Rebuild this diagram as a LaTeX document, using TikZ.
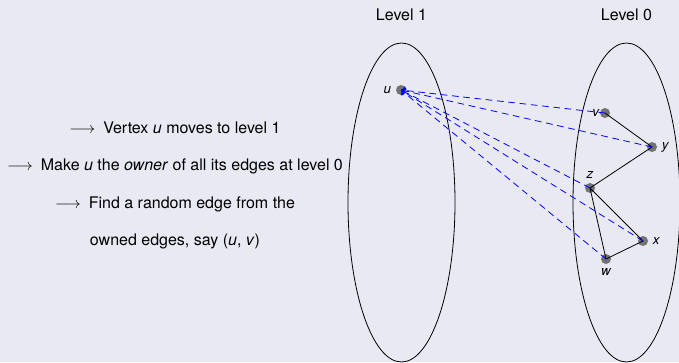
\documentclass[tikz,border=0pt]{standalone}
\usepackage{fontspec}
\setmainfont{TeX Gyre Heros}
\usepackage{xcolor}
\usepackage{tikz}
\usetikzlibrary{arrows.meta,positioning,shapes.geometric}
\definecolor{fundo}{RGB}{233,233,243}
\tikzset{
    vertice/.style={
        circle,
        fill=black!55,
        inner sep=0pt,
        minimum size=7.5pt
    },
    conjunto/.style={
        ellipse,
        draw,
        inner sep=0pt,
        line width=0.6pt,
        minimum width=80.25pt,
        minimum height=239.25pt
    },
    rotulo/.style={font=\itshape},
    aresta/.style={line width=0.6pt},
    dono/.style={->, blue, dash pattern=on 5pt off 3.5pt, line width=0.6pt},
    passo/.style={align=center, inner sep=2pt, text height=8.5pt, text depth=2.5pt}
}

\begin{document}
\begin{tikzpicture}[x=0.75pt, y=-0.75pt, node distance=12.75pt, font=\fontsize{12}{14}\selectfont]
        \useasboundingbox[fill=fundo] (0,0) rectangle (679,362);

        % niveis
        \node[conjunto] (nivel1) at (401.5,202.5) {};
        \node[conjunto] (nivel0) at (626.5,202.5) {};
        \node[above=13pt of nivel1] (titulo1) {Level 1};
        \node[above=13pt of nivel0] (titulo0) {Level 0};

        % vertices
        \node[vertice, label={[rotulo]left:u}] (u) at (401,90) {};
        \node[vertice, label={[rotulo, label distance=-3pt]left:v}] (v) at (605,113) {};
        \node[vertice, label={[rotulo]right:y}] (y) at (652,147) {};
        \node[vertice, label={[rotulo]above:z}] (z) at (590,188) {};
        \node[vertice, label={[rotulo]right:x}] (x) at (643,241) {};
        \node[vertice, label={[rotulo]below:w}] (w) at (606,259) {};

        % passos
        \node[passo] (passo1) at (175,129)
            {$\longrightarrow$\enspace Vertex \textit{u} moves to level 1};
        \node[passo, below=of passo1] (passo2)
            {$\longrightarrow$\enspace Make \textit{u} the \textit{owner} of all its edges at level 0};
        \node[passo, below=of passo2] (passo3)
            {$\longrightarrow$\enspace Find a random edge from the};
        \node[passo, below=of passo3] (passo4)
            {owned edges, say (\textit{u}, \textit{v})};

        \draw[aresta] (v.center) -- (y.center) -- (z.center) -- (x.center) -- (w.center) -- (z.center);
        \foreach \ponta in {v,y,z,x,w}
            \draw[dono] (\ponta.center) -- (u.center);
    \end{tikzpicture}
\end{document}
